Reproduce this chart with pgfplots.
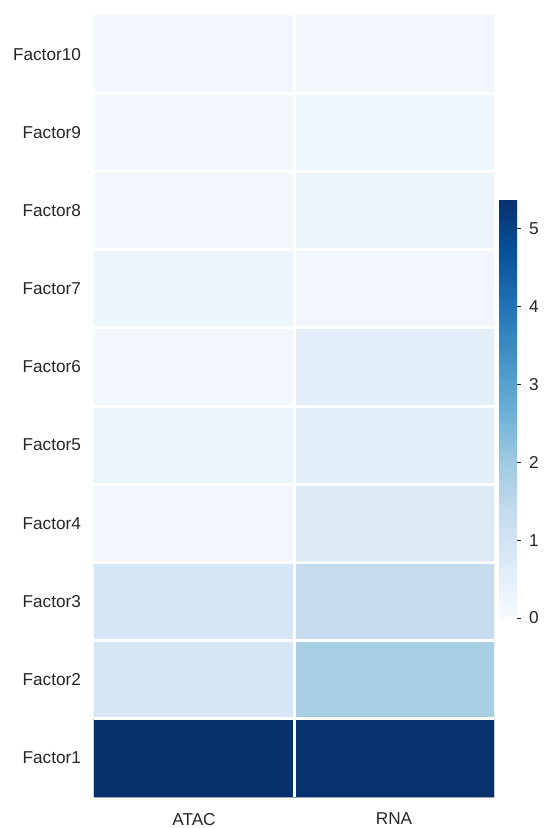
\documentclass[border=0pt]{standalone}
\usepackage{fontspec}
\setmainfont{Liberation Sans}
\usepackage{pgfplots}
\pgfplotsset{compat=1.18}
\definecolor{txt}{HTML}{262626}
\begin{document}
\begin{tikzpicture}
\useasboundingbox (-47pt,-15.5pt) rectangle (224.5pt,398.5pt);
\begin{axis}[
  at={(0pt,0pt)}, anchor=south west,
  scale only axis, width=200pt, height=391pt,
  xmin=-0.5, xmax=1.5, ymin=0.5, ymax=10.5,
  xtick={0,1}, xticklabels={ATAC,RNA},
  ytick={1,...,10}, yticklabels={Factor10,Factor9,Factor8,Factor7,Factor6,Factor5,Factor4,Factor3,Factor2,Factor1},
  minor xtick={0.5}, minor ytick={1.5,2.5,...,9.5},
  grid=minor, minor grid style={white, line width=1.5pt},
  major tick length=0pt, minor tick length=0pt,
  axis line style={draw=none},
  axis on top,
  tick label style={font=\fontsize{8.6}{10}\selectfont, text=txt},
  xticklabel style={yshift=-4.5pt},
  yticklabel style={xshift=-3pt},
  colormap={blues}{rgb255=(247,251,255) rgb255=(222,235,247) rgb255=(198,219,239) rgb255=(158,202,225) rgb255=(107,174,214) rgb255=(66,146,198) rgb255=(33,113,181) rgb255=(8,81,156) rgb255=(8,48,107)},
  point meta min=0, point meta max=5.37,
  colorbar right,
  colorbar style={
    at={(parent axis.north east)}, anchor=north west,
    xshift=-6pt, yshift=-92.5pt,
    scale only axis, width=9pt, height=209pt,
    axis line style={draw=none},
    ytick={0,1,2,3,4,5},
    ytick pos=right, tick align=outside,
    major tick length=2pt,
    tick style={draw=txt, line width=0.4pt},
    yticklabel style={font=\fontsize{8.6}{10}\selectfont, text=txt, xshift=0.5pt},
    /pgf/number format/assume math mode=true,
  },
]
% y = 11 - factor number (matrix plot draws y downwards)
\addplot[matrix plot, mesh/cols=2, point meta=explicit] table[x=x, y=y, meta=c] {
x y c
0 1 0.15
1 1 0.15
0 2 0.12
1 2 0.20
0 3 0.12
1 3 0.27
0 4 0.27
1 4 0.15
0 5 0.16
1 5 0.55
0 6 0.30
1 6 0.53
0 7 0.16
1 7 0.72
0 8 0.86
1 8 1.30
0 9 0.86
1 9 1.83
0 10 5.37
1 10 5.33
};
\end{axis}
\end{tikzpicture}
\end{document}
